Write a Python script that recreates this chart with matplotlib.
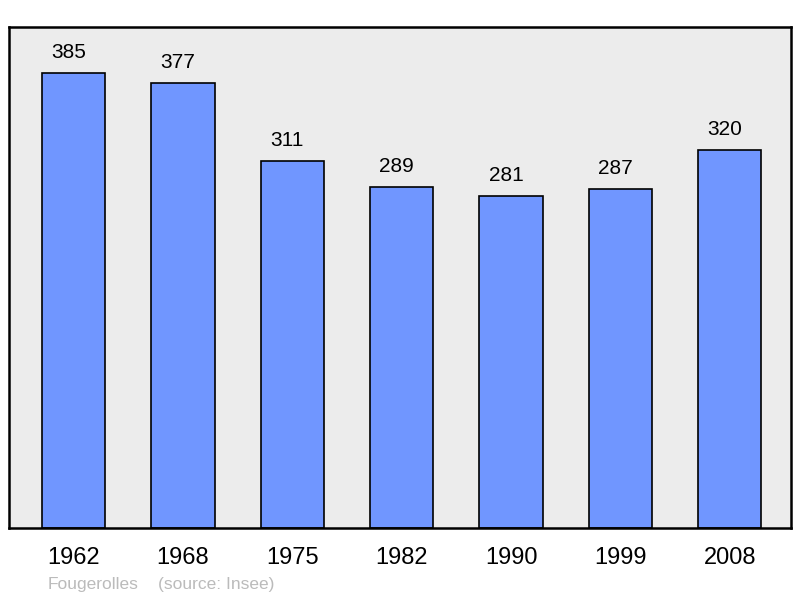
import matplotlib.pyplot as plt

plt.rcParams['font.family'] = ['Liberation Sans', 'DejaVu Sans']

# Population data
years = ['1962', '1968', '1975', '1982', '1990', '1999', '2008']
population = [385, 377, 311, 289, 281, 287, 320]

fig = plt.figure(figsize=(8, 5.98), dpi=100)
ax = fig.add_axes([9 / 800, 1 - 528 / 598, 782 / 800, 501 / 598])
ax.set_facecolor('#ececec')

x = range(len(years))
ax.bar(x, population, width=0.58, color='#7096ff', edgecolor='black', linewidth=1.2, zorder=2)

for xi, v in zip(x, population):
    ax.annotate(str(v), (xi, v), xytext=(-5, 11), textcoords='offset pixels',
                ha='center', va='bottom', fontsize=15, color='black')

ax.set_xlim(-0.59, 6.56)
ax.set_ylim(0, 424)
ax.set_yticks([])
ax.set_xticks(list(x))
ax.set_xticklabels(years, fontsize=17)
ax.tick_params(axis='x', length=0, pad=14)
for s in ax.spines.values():
    s.set_linewidth(1.8)
    s.set_color('black')

fig.text(48 / 800, 1 - 584 / 598, 'Fougerolles', fontsize=12.5, color='#bbbbbb', va='center')
fig.text(158 / 800, 1 - 584 / 598, '(source: Insee)', fontsize=12.5, color='#bbbbbb', va='center')

fig.savefig('out.png', dpi=100, facecolor='white')
